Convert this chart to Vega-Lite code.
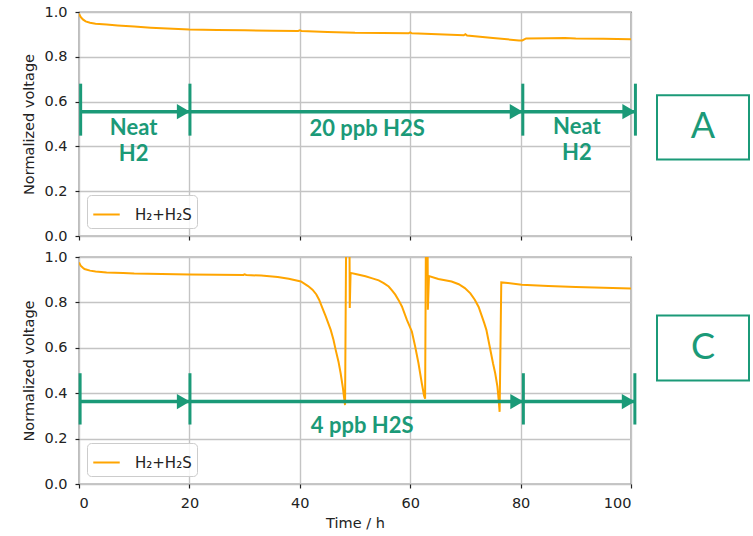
{
  "$schema": "https://vega.github.io/schema/vega-lite/v6.json",
  "background": "white",
  "padding": {"left": 21, "top": 3, "right": 2, "bottom": 3},
  "spacing": 4,
  "resolve": {"scale": {"color": "independent"}, "legend": {"color": "independent"}},
  "datasets": {
    "lineA": [
      {"t": 0, "v": 0.992}, {"t": 0.3, "v": 0.978}, {"t": 0.7, "v": 0.967}, {"t": 1.2, "v": 0.958},
      {"t": 2, "v": 0.952}, {"t": 3, "v": 0.948}, {"t": 5, "v": 0.944}, {"t": 7, "v": 0.94},
      {"t": 10, "v": 0.935}, {"t": 13, "v": 0.93}, {"t": 16, "v": 0.926}, {"t": 20, "v": 0.922},
      {"t": 25, "v": 0.92}, {"t": 30, "v": 0.918}, {"t": 35, "v": 0.916}, {"t": 39.7, "v": 0.915},
      {"t": 40, "v": 0.918}, {"t": 40.3, "v": 0.915}, {"t": 45, "v": 0.911}, {"t": 50, "v": 0.907},
      {"t": 55, "v": 0.906}, {"t": 59.7, "v": 0.905}, {"t": 60, "v": 0.909}, {"t": 60.3, "v": 0.905},
      {"t": 65, "v": 0.901}, {"t": 69.7, "v": 0.896}, {"t": 70, "v": 0.901}, {"t": 70.3, "v": 0.895},
      {"t": 75, "v": 0.884}, {"t": 79.7, "v": 0.873}, {"t": 80.3, "v": 0.873}, {"t": 81, "v": 0.882},
      {"t": 85, "v": 0.883}, {"t": 88, "v": 0.884}, {"t": 90, "v": 0.882}, {"t": 95, "v": 0.881},
      {"t": 100, "v": 0.878}
    ],
    "lineC": [
      {"t": 0, "v": 0.976}, {"t": 0.3, "v": 0.962}, {"t": 0.7, "v": 0.953}, {"t": 1, "v": 0.947},
      {"t": 2, "v": 0.94}, {"t": 3, "v": 0.936}, {"t": 5, "v": 0.932}, {"t": 8, "v": 0.929},
      {"t": 10, "v": 0.927}, {"t": 15, "v": 0.925}, {"t": 20, "v": 0.923}, {"t": 25, "v": 0.922},
      {"t": 29.8, "v": 0.921}, {"t": 30, "v": 0.924}, {"t": 30.3, "v": 0.921}, {"t": 33, "v": 0.918},
      {"t": 36, "v": 0.912}, {"t": 38, "v": 0.904}, {"t": 40.2, "v": 0.892}, {"t": 41.5, "v": 0.872},
      {"t": 42.3, "v": 0.856}, {"t": 43, "v": 0.835}, {"t": 43.5, "v": 0.812}, {"t": 44.1, "v": 0.775},
      {"t": 44.7, "v": 0.738}, {"t": 45.2, "v": 0.705}, {"t": 45.6, "v": 0.679}, {"t": 46.1, "v": 0.635},
      {"t": 46.5, "v": 0.591}, {"t": 47, "v": 0.54}, {"t": 47.4, "v": 0.488}, {"t": 47.8, "v": 0.425},
      {"t": 48, "v": 0.385}, {"t": 48.2, "v": 0.348}, {"t": 48.4, "v": 1.1}, {"t": 49, "v": 1.1},
      {"t": 49.05, "v": 0.775}, {"t": 49.2, "v": 0.93}, {"t": 50.1, "v": 0.925}, {"t": 51.9, "v": 0.915},
      {"t": 53, "v": 0.907}, {"t": 54.3, "v": 0.897}, {"t": 55.2, "v": 0.885}, {"t": 56.1, "v": 0.87},
      {"t": 56.7, "v": 0.853}, {"t": 57.3, "v": 0.834}, {"t": 57.9, "v": 0.81}, {"t": 58.5, "v": 0.782},
      {"t": 59.4, "v": 0.723}, {"t": 60.3, "v": 0.672}, {"t": 60.9, "v": 0.606}, {"t": 61.5, "v": 0.532},
      {"t": 62.1, "v": 0.444}, {"t": 62.5, "v": 0.39}, {"t": 62.7, "v": 0.376}, {"t": 62.85, "v": 1.1},
      {"t": 63.15, "v": 1.1}, {"t": 63.2, "v": 0.768}, {"t": 63.4, "v": 0.916}, {"t": 65.1, "v": 0.903},
      {"t": 67.5, "v": 0.892}, {"t": 68.8, "v": 0.88}, {"t": 69.9, "v": 0.863}, {"t": 70.9, "v": 0.84},
      {"t": 71.7, "v": 0.812}, {"t": 72.4, "v": 0.78}, {"t": 72.9, "v": 0.745}, {"t": 73.4, "v": 0.71},
      {"t": 73.8, "v": 0.679}, {"t": 74.4, "v": 0.606}, {"t": 75, "v": 0.532}, {"t": 75.4, "v": 0.488},
      {"t": 75.8, "v": 0.429}, {"t": 76, "v": 0.378}, {"t": 76.2, "v": 0.318}, {"t": 76.5, "v": 0.888},
      {"t": 77.7, "v": 0.885}, {"t": 80.2, "v": 0.878}, {"t": 85, "v": 0.872}, {"t": 90, "v": 0.868},
      {"t": 95, "v": 0.865}, {"t": 100, "v": 0.861}
    ],
    "arrA": [
      {"x": 0.3, "x2": 20.1, "y": 0.555}, {"x": 20.1, "x2": 80.4, "y": 0.555}, {"x": 80.4, "x2": 100.8, "y": 0.555}
    ],
    "tickA": [
      {"x": 0.3, "y": 0.448, "y2": 0.68}, {"x": 20.1, "y": 0.448, "y2": 0.68},
      {"x": 80.4, "y": 0.448, "y2": 0.68}, {"x": 100.8, "y": 0.448, "y2": 0.68}
    ],
    "textA": [
      {"x": 9.9, "y": 0.484, "t": "Neat\nH2"}, {"x": 52.2, "y": 0.479, "t": "20 ppb H2S"}, {"x": 90.2, "y": 0.488, "t": "Neat\nH2"}
    ],
    "arrC": [
      {"x": 0.2, "x2": 20.1, "y": 0.363}, {"x": 20.1, "x2": 80.5, "y": 0.363}, {"x": 80.5, "x2": 100.7, "y": 0.363}
    ],
    "tickC": [
      {"x": 0.2, "y": 0.262, "y2": 0.488}, {"x": 20.1, "y": 0.262, "y2": 0.488},
      {"x": 80.5, "y": 0.262, "y2": 0.488}, {"x": 100.7, "y": 0.262, "y2": 0.488}
    ],
    "textC": [
      {"x": 51.3, "y": 0.257, "t": "4 ppb H2S"}
    ],
    "boxA": [{"x0": 0, "x1": 1, "xm": 0.5, "lo": 0.341, "hi": 0.628, "ly": 0.485, "label": "A"}],
    "boxC": [{"x0": 0, "x1": 1, "xm": 0.5, "lo": 0.456, "hi": 0.742, "ly": 0.6, "label": "C"}]
  },
  "vconcat": [
    {
      "hconcat": [
        {
          "width": 552,
          "height": 224,
          "layer": [
            {
              "data": {"name": "lineA"},
              "mark": {"type": "line", "color": "#ffa500", "strokeWidth": 2, "clip": true},
              "encoding": {
                "x": {"field": "t", "type": "quantitative", "scale": {"domain": [0, 100], "nice": false},
                      "axis": {"values": [0, 20, 40, 60, 80, 100], "labels": false, "title": null}},
                "y": {"field": "v", "type": "quantitative", "scale": {"domain": [0, 1], "nice": false},
                      "axis": {"values": [0, 0.2, 0.4, 0.6, 0.8, 1.0], "format": ".1f", "title": "Normalized voltage"}},
                "color": {"datum": "H₂+H₂S", "type": "nominal", "scale": {"range": ["#ffa500"]}, "legend": {"title": null}}
              }
            },
            {
              "data": {"name": "arrA"},
              "mark": {"type": "rule", "color": "#1b9a78", "strokeWidth": 3.5},
              "encoding": {
                "x": {"field": "x", "type": "quantitative"},
                "x2": {"field": "x2"},
                "y": {"field": "y", "type": "quantitative"}
              }
            },
            {
              "data": {"name": "arrA"},
              "mark": {"type": "point", "shape": "triangle-right", "filled": true, "opacity": 1, "color": "#1b9a78", "size": 230, "xOffset": -6.5},
              "encoding": {
                "x": {"field": "x2", "type": "quantitative"},
                "y": {"field": "y", "type": "quantitative"}
              }
            },
            {
              "data": {"name": "tickA"},
              "mark": {"type": "rule", "color": "#1b9a78", "strokeWidth": 3},
              "encoding": {
                "x": {"field": "x", "type": "quantitative"},
                "y": {"field": "y", "type": "quantitative"},
                "y2": {"field": "y2"}
              }
            },
            {
              "data": {"name": "textA"},
              "mark": {"type": "text", "color": "#1b9a78", "font": "Lato", "fontWeight": "bold", "fontSize": 22, "align": "center", "baseline": "middle", "lineBreak": "\n", "lineHeight": 26},
              "encoding": {
                "x": {"field": "x", "type": "quantitative"},
                "y": {"field": "y", "type": "quantitative"},
                "text": {"field": "t"}
              }
            }
          ]
        },
        {
          "width": 92,
          "height": 224,
          "view": {"stroke": null},
          "data": {"name": "boxA"},
          "layer": [
            {
              "mark": {"type": "rect", "fill": "white", "stroke": "#1b9a78", "strokeWidth": 2},
              "encoding": {
                "x": {"field": "x0", "type": "quantitative", "scale": {"domain": [0, 1], "nice": false}, "axis": null},
                "x2": {"field": "x1"},
                "y": {"field": "lo", "type": "quantitative", "scale": {"domain": [0, 1], "nice": false}, "axis": null},
                "y2": {"field": "hi"}
              }
            },
            {
              "mark": {"type": "text", "color": "#1b9a78", "font": "Lato", "fontSize": 36, "align": "center", "baseline": "middle"},
              "encoding": {
                "x": {"field": "xm", "type": "quantitative"},
                "y": {"field": "ly", "type": "quantitative"},
                "text": {"field": "label"}
              }
            }
          ]
        }
      ],
      "spacing": 26,
      "bounds": "flush",
      "resolve": {"scale": {"color": "independent"}, "legend": {"color": "independent"}}
    },
    {
      "hconcat": [
        {
          "width": 552,
          "height": 227,
          "layer": [
            {
              "data": {"name": "lineC"},
              "mark": {"type": "line", "color": "#ffa500", "strokeWidth": 2, "clip": true},
              "encoding": {
                "x": {"field": "t", "type": "quantitative", "scale": {"domain": [0, 100], "nice": false},
                      "axis": {"values": [0, 20, 40, 60, 80, 100], "title": "Time / h"}},
                "y": {"field": "v", "type": "quantitative", "scale": {"domain": [0, 1], "nice": false},
                      "axis": {"values": [0, 0.2, 0.4, 0.6, 0.8, 1.0], "format": ".1f", "title": "Normalized voltage"}},
                "color": {"datum": "H₂+H₂S", "type": "nominal", "scale": {"range": ["#ffa500"]}, "legend": {"title": null}}
              }
            },
            {
              "data": {"name": "arrC"},
              "mark": {"type": "rule", "color": "#1b9a78", "strokeWidth": 3.5},
              "encoding": {
                "x": {"field": "x", "type": "quantitative"},
                "x2": {"field": "x2"},
                "y": {"field": "y", "type": "quantitative"}
              }
            },
            {
              "data": {"name": "arrC"},
              "mark": {"type": "point", "shape": "triangle-right", "filled": true, "opacity": 1, "color": "#1b9a78", "size": 230, "xOffset": -6.5},
              "encoding": {
                "x": {"field": "x2", "type": "quantitative"},
                "y": {"field": "y", "type": "quantitative"}
              }
            },
            {
              "data": {"name": "tickC"},
              "mark": {"type": "rule", "color": "#1b9a78", "strokeWidth": 3},
              "encoding": {
                "x": {"field": "x", "type": "quantitative"},
                "y": {"field": "y", "type": "quantitative"},
                "y2": {"field": "y2"}
              }
            },
            {
              "data": {"name": "textC"},
              "mark": {"type": "text", "color": "#1b9a78", "font": "Lato", "fontWeight": "bold", "fontSize": 22, "align": "center", "baseline": "middle"},
              "encoding": {
                "x": {"field": "x", "type": "quantitative"},
                "y": {"field": "y", "type": "quantitative"},
                "text": {"field": "t"}
              }
            }
          ]
        },
        {
          "width": 92,
          "height": 227,
          "view": {"stroke": null},
          "data": {"name": "boxC"},
          "layer": [
            {
              "mark": {"type": "rect", "fill": "white", "stroke": "#1b9a78", "strokeWidth": 2},
              "encoding": {
                "x": {"field": "x0", "type": "quantitative", "scale": {"domain": [0, 1], "nice": false}, "axis": null},
                "x2": {"field": "x1"},
                "y": {"field": "lo", "type": "quantitative", "scale": {"domain": [0, 1], "nice": false}, "axis": null},
                "y2": {"field": "hi"}
              }
            },
            {
              "mark": {"type": "text", "color": "#1b9a78", "font": "Lato", "fontSize": 36, "align": "center", "baseline": "middle"},
              "encoding": {
                "x": {"field": "xm", "type": "quantitative"},
                "y": {"field": "ly", "type": "quantitative"},
                "text": {"field": "label"}
              }
            }
          ]
        }
      ],
      "spacing": 26,
      "bounds": "flush",
      "resolve": {"scale": {"color": "independent"}, "legend": {"color": "independent"}}
    }
  ],
  "config": {
    "font": "DejaVu Sans",
    "view": {"stroke": "#222222", "strokeWidth": 1.2},
    "axis": {
      "grid": true,
      "gridColor": "#c4c4c4",
      "gridWidth": 1.4,
      "domain": false,
      "tickColor": "#222222",
      "tickSize": 4,
      "tickWidth": 1.2,
      "labelFont": "DejaVu Sans",
      "labelFontSize": 14.5,
      "labelColor": "#222222",
      "labelPadding": 8,
      "titleFont": "DejaVu Sans",
      "titleFontSize": 14.5,
      "titleFontWeight": "normal",
      "titleColor": "#222222",
      "titlePadding": 7
    },
    "legend": {
      "orient": "bottom-left",
      "offset": 8,
      "padding": 5,
      "fillColor": "rgba(255,255,255,0.85)",
      "strokeColor": "#cccccc",
      "cornerRadius": 4,
      "symbolType": "stroke",
      "symbolSize": 700,
      "symbolStrokeWidth": 2,
      "labelFont": "DejaVu Sans",
      "labelFontSize": 15,
      "labelColor": "#222222",
      "labelOffset": 14
    }
  }
}
